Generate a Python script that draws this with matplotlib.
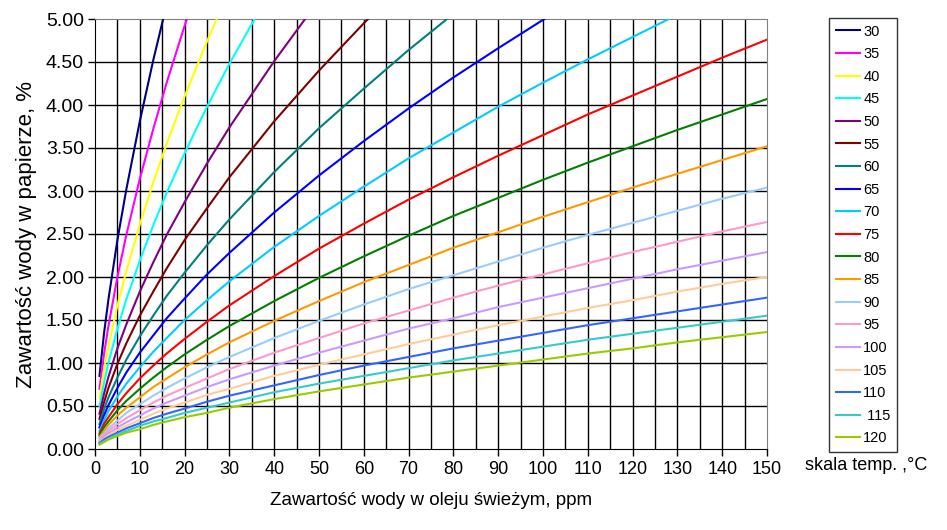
import matplotlib
matplotlib.use("Agg")
import matplotlib.pyplot as plt

plt.rcParams['font.family'] = ['Liberation Sans', 'DejaVu Sans']

# water in fresh oil, ppm (shared x points, each curve stops once it is past 5 %)
ppm = [1, 2, 3, 5, 7, 10, 13, 16, 20, 25, 30, 40, 50, 60, 70, 80, 90, 100,
       110, 120, 130, 140, 150]

# water in paper, % - one list per temperature
y30 = [0.85, 1.34, 1.74, 2.43, 3.02, 3.81, 4.52, 5.17]
y35 = [0.70, 1.10, 1.43, 2.00, 2.49, 3.14, 3.72, 4.26, 4.92, 5.69]
y40 = [0.59, 0.92, 1.19, 1.67, 2.07, 2.61, 3.10, 3.55, 4.10, 4.74, 5.34]
y45 = [0.49, 0.77, 1.00, 1.40, 1.74, 2.19, 2.60, 2.98, 3.44, 3.98, 4.48, 5.40]
y50 = [0.41, 0.64, 0.84, 1.17, 1.45, 1.83, 2.17, 2.49, 2.87, 3.32, 3.74, 4.51, 5.22]
y55 = [0.35, 0.54, 0.71, 0.99, 1.23, 1.55, 1.83, 2.10, 2.43, 2.80, 3.16, 3.81, 4.40,
       4.95, 5.48]
y60 = [0.29, 0.46, 0.60, 0.83, 1.04, 1.31, 1.55, 1.78, 2.05, 2.37, 2.67, 3.22, 3.73,
       4.19, 4.64, 5.06]
y65 = [0.25, 0.39, 0.51, 0.71, 0.89, 1.12, 1.32, 1.52, 1.75, 2.03, 2.28, 2.75, 3.18,
       3.58, 3.96, 4.32, 4.66, 4.99, 5.31]
y70 = [0.21, 0.33, 0.44, 0.61, 0.76, 0.95, 1.13, 1.29, 1.50, 1.73, 1.95, 2.35, 2.71,
       3.05, 3.38, 3.68, 3.98, 4.26, 4.53, 4.79, 5.05]
y75 = [0.18, 0.29, 0.37, 0.52, 0.65, 0.82, 0.97, 1.11, 1.28, 1.48, 1.67, 2.01, 2.33,
       2.62, 2.90, 3.16, 3.41, 3.65, 3.89, 4.11, 4.33, 4.55, 4.76]
y80 = [0.16, 0.25, 0.32, 0.45, 0.56, 0.70, 0.83, 0.95, 1.10, 1.27, 1.43, 1.72, 1.99,
       2.24, 2.48, 2.71, 2.92, 3.13, 3.33, 3.52, 3.71, 3.89, 4.07]
y85 = [0.14, 0.21, 0.28, 0.39, 0.48, 0.60, 0.72, 0.82, 0.95, 1.10, 1.24, 1.49, 1.72,
       1.94, 2.14, 2.34, 2.52, 2.70, 2.87, 3.04, 3.20, 3.36, 3.52]
y90 = [0.12, 0.18, 0.24, 0.33, 0.42, 0.52, 0.62, 0.71, 0.82, 0.95, 1.07, 1.29, 1.49,
       1.68, 1.86, 2.02, 2.18, 2.34, 2.49, 2.63, 2.77, 2.91, 3.04]
y95 = [0.10, 0.16, 0.21, 0.29, 0.36, 0.45, 0.54, 0.62, 0.71, 0.82, 0.93, 1.12, 1.29,
       1.46, 1.61, 1.76, 1.90, 2.03, 2.16, 2.29, 2.41, 2.53, 2.64]
y100 = [0.09, 0.14, 0.18, 0.25, 0.31, 0.39, 0.47, 0.54, 0.62, 0.72, 0.81, 0.97, 1.12,
        1.26, 1.40, 1.52, 1.65, 1.76, 1.87, 1.98, 2.09, 2.19, 2.29]
y105 = [0.08, 0.12, 0.16, 0.22, 0.27, 0.34, 0.41, 0.47, 0.54, 0.63, 0.70, 0.85, 0.98,
        1.10, 1.22, 1.33, 1.44, 1.54, 1.64, 1.73, 1.83, 1.92, 2.00]
y110 = [0.07, 0.11, 0.14, 0.19, 0.24, 0.30, 0.36, 0.41, 0.47, 0.55, 0.62, 0.74, 0.86,
        0.97, 1.07, 1.17, 1.26, 1.35, 1.44, 1.52, 1.60, 1.68, 1.76]
y115 = [0.06, 0.09, 0.12, 0.17, 0.21, 0.27, 0.32, 0.36, 0.42, 0.48, 0.54, 0.66, 0.76,
        0.85, 0.94, 1.03, 1.11, 1.19, 1.27, 1.34, 1.41, 1.48, 1.55]
y120 = [0.05, 0.08, 0.11, 0.15, 0.19, 0.23, 0.28, 0.32, 0.37, 0.42, 0.48, 0.58, 0.67,
        0.75, 0.83, 0.90, 0.97, 1.04, 1.11, 1.17, 1.24, 1.30, 1.36]

temps = ["30", "35", "40", "45", "50", "55", "60", "65", "70", "75", "80", "85",
         "90", "95", "100", "105", "110", " 115", "120"]
colors = ["#000080", "#FF00FF", "#FFFF00", "#00FFFF", "#800080", "#800000",
          "#008080", "#0000FF", "#00CCFF", "#FF0000", "#008000", "#FF9900",
          "#99CCFF", "#FF99CC", "#CC99FF", "#FFCC99", "#3366FF", "#33CCCC",
          "#99CC00"]
series = [y30, y35, y40, y45, y50, y55, y60, y65, y70, y75, y80, y85, y90, y95,
          y100, y105, y110, y115, y120]

fig = plt.figure(figsize=(9.47, 5.30), dpi=100)
ax = fig.add_axes([95 / 947, 1 - 449 / 530, 672 / 947, 430 / 530])

# grid: every 5 ppm and every 0.5 %
for gx in range(5, 150, 5):
    ax.axvline(gx, color="black", lw=1.0, zorder=1)
for gy in [0.5, 1.0, 1.5, 2.0, 2.5, 3.0, 3.5, 4.0, 4.5]:
    ax.axhline(gy, color="black", lw=1.0, zorder=1)

for t, ys, c in zip(temps, series, colors):
    ax.plot(ppm[:len(ys)], ys, color=c, lw=1.5, label=t, zorder=3)

ax.set_xlim(0, 150)
ax.set_ylim(0, 5)
ax.set_xticks(range(0, 151, 10))
ax.set_yticks([i * 0.5 for i in range(11)])
ax.set_yticklabels([f"{i * 0.5:.2f}" for i in range(11)])
ax.tick_params(direction="out", length=5, width=1, color="black")
ax.tick_params(axis="y", labelsize=14, pad=3)
ax.tick_params(axis="x", labelsize=13, pad=4)
ax.spines["top"].set_color("#808080")
ax.spines["right"].set_color("#808080")
for s in ["left", "bottom"]:
    ax.spines[s].set_color("black")

ax.set_xlabel("Zawartość wody w oleju świeżym, ppm", fontsize=13.5, labelpad=10)
ax.set_ylabel("Zawartość wody w papierze, %", fontsize=16, labelpad=6)

leg = fig.legend(loc="upper left", bbox_to_anchor=(829 / 947, 1 - 18 / 530),
                 borderaxespad=0, fontsize=10.5, frameon=True, fancybox=False,
                 edgecolor="black", handlelength=1.7, handletextpad=0.2,
                 labelspacing=0.59, borderpad=0.45)
leg.get_frame().set_linewidth(1.0)

fig.text(866 / 947, 1 - 466 / 530, "skala temp. ,°C", fontsize=13,
         ha="center", va="center")

fig.savefig("out.png", dpi=100)
